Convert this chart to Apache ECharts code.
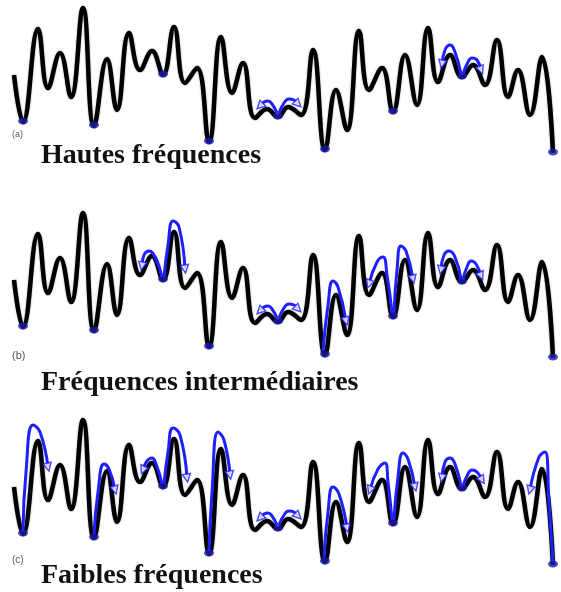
<!DOCTYPE html>
<html>
<head>
<meta charset="utf-8">
<script src="https://cdn.jsdelivr.net/npm/echarts@6/dist/echarts.min.js"></script>
<style>html,body{margin:0;padding:0;background:#fff;}#c{width:561px;height:592px;}</style>
</head>
<body>
<div id="c"></div>
<script>
// Energy landscape (x, depth) — same landscape in all three panels
const landscape = [[14,75],[23,122],[38,29],[48,88],[60,53],[71,97],[83,8],[94,126],[107,59],[117,110],[129,33],[140,70],[152,51],[163,75],[174,27],[185,83],[197,68],[209,142],[221,37],[232,93],[243,63],[255,118],[267,109],[278,117],[288,107],[301,115],[313,50],[325,150],[336,90],[347,130],[359,31],[369,90],[382,68],[393,112],[405,55],[417,105],[428,28],[438,82],[450,55],[462,77],[473,65],[485,85],[497,40],[508,97],[518,70],[530,115],[542,57],[553,153]];
// Occupied minima (blue dots)
const minima = [[23,122],[94,126],[163,75],[209,142],[278,117],[325,150],[393,112],[462,77],[553,153]];

// Transition arrows per panel
const arrowsHigh = [
  [[277,113],[272,104],[268,101],[264,102],[260,106]],
  [[279,113],[284,103],[289,99],[294,100],[298,104]],
  [[461,74],[455,52],[450,45],[445,50],[442,64]],
  [[463,74],[468,62],[472,58],[477,60],[481,70]]
];
const arrowsMid = [
  [[162,72],[155,52],[149,46],[144,50],[142,61]],
  [[164,72],[168,40],[173,16],[179,22],[185,64]],
  [[277,113],[272,104],[268,101],[264,102],[260,106]],
  [[279,113],[284,103],[289,99],[294,100],[298,104]],
  [[323,146],[328,100],[333,76],[338,82],[346,116]],
  [[392,108],[387,70],[383,52],[377,57],[369,79]],
  [[394,108],[397,65],[401,41],[406,46],[413,74]],
  [[461,74],[455,52],[449,46],[444,50],[441,65]],
  [[463,74],[467,62],[471,56],[476,59],[481,71]]
];
const arrowsLow = [
  [[23,119],[26,60],[33,13],[40,20],[48,55]],
  [[94,122],[98,80],[104,52],[109,57],[115,78]],
  [[162,72],[156,52],[152,46],[147,49],[143,58]],
  [[164,72],[168,40],[173,16],[180,23],[187,66]],
  [[209,139],[212,80],[218,20],[224,28],[230,63]],
  [[277,113],[272,104],[268,101],[264,102],[260,106]],
  [[279,113],[284,103],[289,99],[294,100],[298,104]],
  [[324,146],[328,100],[333,75],[339,82],[347,116]],
  [[392,108],[388,70],[385,51],[378,57],[370,78]],
  [[394,108],[398,65],[403,41],[408,47],[415,75]],
  [[461,74],[455,52],[450,46],[445,50],[442,66]],
  [[463,74],[468,62],[472,58],[477,60],[482,68]],
  [[553,150],[549,90],[545,40],[539,45],[530,78]]
];
const panelArrows = [arrowsHigh, arrowsMid, arrowsLow];
const panelTags = ['(a)', '(b)', '(c)'];
const panelTitles = ['Hautes fréquences', 'Fréquences intermédiaires', 'Faibles fréquences'];

// ---- layout / style ----
const panelTops = [0, 205, 412];
const BLUE = '#1f1fff';
const chart = echarts.init(document.getElementById('c'), null, {renderer: 'canvas'});

const series = [];
panelTops.forEach((t, p) => {
  series.push({
    type: 'line', xAxisIndex: p, yAxisIndex: p, data: landscape,
    smooth: 0.45, symbol: 'none', clip: false, z: 2,
    lineStyle: {color: '#000', width: 4.5, shadowColor: 'rgba(0,0,0,0.35)', shadowBlur: 2}
  });
  series.push({
    type: 'scatter', xAxisIndex: p, yAxisIndex: p, data: minima,
    symbol: 'circle', symbolSize: [10, 7], clip: false, z: 3, silent: true,
    symbolOffset: [0, -1],
    itemStyle: {color: '#1c1ca8'}
  });
  const heads = [];
  panelArrows[p].forEach(path => {
    series.push({
      type: 'line', xAxisIndex: p, yAxisIndex: p, data: path,
      smooth: 0.5, symbol: 'none', clip: false, z: 4,
      lineStyle: {color: BLUE, width: 3}
    });
    const a = path[path.length - 2], b = path[path.length - 1];
    const dx = b[0] - a[0], dy = b[1] - a[1];
    const rot = Math.atan2(-dx, -dy) * 180 / Math.PI;
    heads.push({value: b, symbolRotate: rot});
  });
  series.push({
    type: 'scatter', xAxisIndex: p, yAxisIndex: p, data: heads,
    symbol: 'triangle', symbolSize: 8, clip: false, z: 5,
    itemStyle: {color: '#ffffff', borderColor: BLUE, borderWidth: 1.5}
  });
});

const tagPos = [[12, 136, 9], [12, 357, 11], [12, 561, 10]];
const titleBase = [164, 391, 584];
const graphic = [];
panelTags.forEach((tag, i) => {
  graphic.push({type: 'text', left: tagPos[i][0], top: tagPos[i][1] - tagPos[i][2] / 2 - 1,
    style: {text: tag, font: tagPos[i][2] + 'px "Liberation Sans", Arial, sans-serif', fill: '#555'}});
  graphic.push({type: 'text', left: 41, top: titleBase[i] - 22,
    style: {text: panelTitles[i], font: 'bold 28px "Liberation Serif", "Times New Roman", serif', fill: '#111'}});
});

chart.setOption({
  animation: false,
  backgroundColor: '#ffffff',
  grid: panelTops.map(t => ({left: 0, top: t, width: 561, height: 160})),
  xAxis: panelTops.map((t, i) => ({type: 'value', gridIndex: i, min: 0, max: 561, show: false})),
  yAxis: panelTops.map((t, i) => ({type: 'value', gridIndex: i, min: 0, max: 160, inverse: true, show: false})),
  series: series,
  graphic: graphic
});
</script>
</body>
</html>
